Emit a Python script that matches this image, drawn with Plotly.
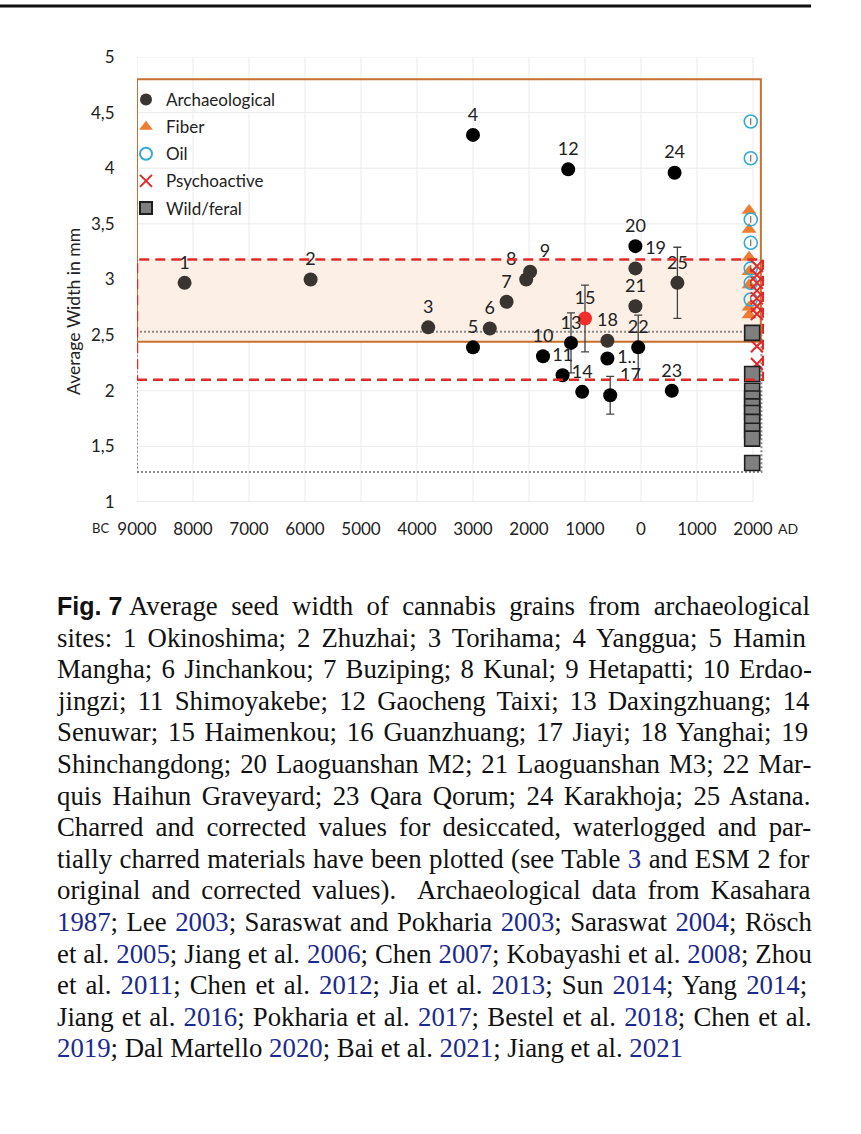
import re
import plotly.graph_objects as go

# archaeological sites (year: negative = BC), average seed width in mm
site_no = [str(i) for i in range(1, 26)]
site_year = [-8150, -5900, -3800, -3000, -3000, -2700, -2400, -2050, -1980, -1750,
             -1400, -1300, -1250, -1050, -1000, -600, -550, -600, -100, -100,
             -100, -50, 550, 600, 650]
site_width = [2.97, 3.00, 2.57, 4.30, 2.39, 2.56, 2.80, 3.00, 3.07, 2.31,
              2.14, 3.99, 2.43, 1.99, 2.65, 2.29, 1.96, 2.45, 3.10, 3.30,
              2.76, 2.39, 2.00, 3.96, 2.97]
site_err = [0, 0, 0, 0, 0, 0, 0, 0, 0, 0,
            0, 0, 0.27, 0, 0.30, 0, 0.17, 0, 0, 0,
            0, 0.29, 0, 0, 0.32]
site_label = site_no[:]
site_label[15] = "1.."

# modern reference groups plotted around 2000 AD
fiber_width = [3.62, 3.45, 3.20, 3.07, 2.95, 2.75, 2.68]
oil_width = [4.42, 4.09, 3.54, 3.33, 3.10, 2.97, 2.82]
oil_err = [0.03, 0.03, 0.03, 0.03, 0.03, 0.03, 0.03]
psycho_width = [3.12, 3.04, 2.97, 2.90, 2.83, 2.76, 2.69, 2.40, 2.24]
wild_width = [2.52, 2.15, 2.00, 1.93, 1.86, 1.80, 1.72, 1.64, 1.57, 1.35]

# ranges drawn as boxes
cult_range = [2.44, 4.80]      # orange box
psycho_range = [2.10, 3.18]    # red dashed box
wild_range = [1.27, 2.53]      # grey dotted box

x_ticks = list(range(-9000, 2001, 1000))
x_text = [str(abs(v)) for v in x_ticks]
y_ticks = [1, 1.5, 2, 2.5, 3, 3.5, 4, 4.5, 5]
y_text = [str(v).replace(".", ",").replace(",0", "") for v in y_ticks]

# caption, {..} = blue reference links
caption_lines = [
    "Average seed width of cannabis grains from archaeological",
    "sites: 1 Okinoshima; 2 Zhuzhai; 3 Torihama; 4 Yanggua; 5 Hamin",
    "Mangha; 6 Jinchankou; 7 Buziping; 8 Kunal; 9 Hetapatti; 10 Erdao-",
    "jingzi; 11 Shimoyakebe; 12 Gaocheng Taixi; 13 Daxingzhuang; 14",
    "Senuwar; 15 Haimenkou; 16 Guanzhuang; 17 Jiayi; 18 Yanghai; 19",
    "Shinchangdong; 20 Laoguanshan M2; 21 Laoguanshan M3; 22 Mar-",
    "quis Haihun Graveyard; 23 Qara Qorum; 24 Karakhoja; 25 Astana.",
    "Charred and corrected values for desiccated, waterlogged and par-",
    "tially charred materials have been plotted (see Table {3} and ESM 2 for",
    "original and corrected values).  Archaeological data from Kasahara",
    "{1987}; Lee {2003}; Saraswat and Pokharia {2003}; Saraswat {2004}; Rösch",
    "et al. {2005}; Jiang et al. {2006}; Chen {2007}; Kobayashi et al. {2008}; Zhou",
    "et al. {2011}; Chen et al. {2012}; Jia et al. {2013}; Sun {2014}; Yang {2014};",
    "Jiang et al. {2016}; Pokharia et al. {2017}; Bestel et al. {2018}; Chen et al.",
    "{2019}; Dal Martello {2020}; Bai et al. {2021}; Jiang et al. {2021}",
]

FONT = "Lato"
W, H = 861, 1134


def px(x):
    return x / W


def py(y):
    return 1 - y / H


# Times / Liberation Serif advance widths (per 1000 em) used to justify caption lines
TIMES = {" ": 250, "(": 333, ")": 333, ",": 250, "-": 333, ".": 250, ":": 278, ";": 278,
         "A": 722, "B": 667, "C": 667, "D": 722, "E": 611, "F": 556, "G": 722, "H": 722,
         "I": 333, "J": 389, "K": 722, "L": 611, "M": 889, "N": 722, "O": 722, "P": 556,
         "Q": 722, "R": 667, "S": 556, "T": 611, "U": 722, "V": 722, "W": 944, "X": 722,
         "Y": 722, "Z": 611, "a": 444, "b": 500, "c": 444, "d": 500, "e": 444, "f": 333,
         "g": 500, "h": 500, "i": 278, "j": 278, "k": 500, "l": 278, "m": 778, "n": 500,
         "o": 500, "p": 500, "q": 500, "r": 333, "s": 389, "t": 278, "u": 500, "v": 500,
         "w": 722, "x": 500, "y": 500, "z": 444, "ö": 500}
for d in "0123456789":
    TIMES[d] = 500

CAP_SIZE = 26.8
CAP_LEFT, CAP_RIGHT = 55, 810
FIG_LABEL = "Fig. 7"
FIG_SIZE = 25
FIG_W = (611 + 278 + 611 + 278 + 278 + 556) / 1000 * FIG_SIZE + 0.25 * CAP_SIZE
blue = "#1B2A8C"


def justify(line, first, last):
    parts = re.split(r"(\{[^}]*\})", line)
    plain = line.replace("{", "").replace("}", "")
    natural = sum(TIMES.get(c, 500) for c in plain) / 1000 * CAP_SIZE
    avail = CAP_RIGHT - CAP_LEFT - (FIG_W if first else 0)
    n_sp = plain.count(" ")
    ws = 0 if last or n_sp == 0 else max(0, (avail - natural) / n_sp)
    out = ""
    if first:
        out += ("<span style='font-family:Liberation Sans;font-size:%dpx'><b>%s</b></span> "
                % (FIG_SIZE, FIG_LABEL))
    for p in parts:
        if not p:
            continue
        if p.startswith("{"):
            out += "<span style='color:%s'>%s</span>" % (blue, p[1:-1])
        else:
            out += "<span style='word-spacing:%.2fpx'>%s</span>" % (ws, p)
    return out


# colours: red for Haimenkou, dark grey inside the shaded band, black otherwise
colors = []
for i, w in enumerate(site_width):
    if i == 14:
        colors.append("#F0302A")
    elif cult_range[0] <= w <= psycho_range[1]:
        colors.append("#3A3430")
    else:
        colors.append("#000000")

label_pos = ["top center"] * 25
label_pos[7] = "top left"
label_pos[8] = "top right"
label_pos[15] = "middle right"
label_pos[16] = "top right"
label_pos[18] = "top right"

fig = go.Figure()

fig.add_trace(go.Scatter(
    x=site_year, y=site_width, mode="markers+text", name="Archaeological",
    legendgroup="a", text=site_label, textposition=label_pos,
    textfont=dict(family=FONT, size=18, color="#222222"),
    marker=dict(size=14, color=colors, symbol="circle"),
    error_y=dict(type="data", array=site_err, color="#444444", thickness=1.3, width=4),
    cliponaxis=False,
))
fig.add_trace(go.Scatter(
    x=[1930] * len(fiber_width), y=fiber_width, mode="markers", name="Fiber",
    legendgroup="b",
    marker=dict(size=13, color="#ED7D31", symbol="triangle-up"),
))
fig.add_trace(go.Scatter(
    x=[1960] * len(oil_width), y=oil_width, mode="markers", name="Oil",
    legendgroup="c",
    marker=dict(size=13, color="rgba(0,0,0,0)", symbol="circle",
                line=dict(color="#35A9D4", width=1.6)),
    error_y=dict(type="data", array=oil_err, color="#555555", thickness=1, width=0),
))
fig.add_trace(go.Scatter(
    x=[2070] * len(psycho_width), y=psycho_width, mode="markers", name="Psychoactive",
    legendgroup="d",
    marker=dict(size=12, symbol="x-thin", line=dict(color="#E02A2A", width=2)),
    cliponaxis=False,
))
fig.add_trace(go.Scatter(
    x=[1985] * len(wild_width), y=wild_width, mode="markers", name="Wild/feral",
    legendgroup="e",
    marker=dict(size=15, color="#7F7F7F", symbol="square",
                line=dict(color="#1E1E1E", width=1.6)),
    cliponaxis=False,
))

shapes = []
# light grid
for v in x_ticks:
    shapes.append(dict(type="line", xref="x", yref="y", x0=v, x1=v, y0=1, y1=5,
                       line=dict(color="#EBEBEB", width=1), layer="below"))
for v in y_ticks[1:]:
    shapes.append(dict(type="line", xref="x", yref="y", x0=-9000, x1=2000, y0=v, y1=v,
                       line=dict(color="#EBEBEB", width=1), layer="below"))
shapes.append(dict(type="line", xref="x", yref="y", x0=-9000, x1=2000, y0=1, y1=1,
                   line=dict(color="#D4D4D4", width=1.2), layer="below"))
# shaded overlap band
shapes.append(dict(type="rect", xref="x", yref="y", x0=-9000, x1=2140,
                   y0=cult_range[0], y1=psycho_range[1],
                   fillcolor="#FCEFE5", line=dict(width=0), layer="below"))
# boxes
shapes.append(dict(type="rect", xref="x", yref="y", x0=-9000, x1=2150,
                   y0=wild_range[0], y1=wild_range[1],
                   line=dict(color="#8A8A8A", width=2, dash="2px,2px"), layer="below"))
shapes.append(dict(type="rect", xref="x", yref="y", x0=-9000, x1=2140,
                   y0=cult_range[0], y1=cult_range[1],
                   line=dict(color="#C7702F", width=2), layer="below"))
shapes.append(dict(type="rect", xref="x", yref="y", x0=-9000, x1=2180,
                   y0=psycho_range[0], y1=psycho_range[1],
                   line=dict(color="#E02A2A", width=2.5, dash="10px,6px"), layer="above"))
# page rule at the top
shapes.append(dict(type="line", xref="paper", yref="paper", x0=0, x1=px(811),
                   y0=py(6), y1=py(6), line=dict(color="#111111", width=3)))

annotations = [
    dict(text="Average Width in mm", x=px(73), y=py(312), xanchor="center", yanchor="middle",
         xref="paper", yref="paper", textangle=-90, showarrow=False,
         font=dict(family=FONT, size=17.6, color="#222222")),
    dict(text="BC", x=px(100), y=py(528), xref="paper", yref="paper",
         xanchor="center", yanchor="middle",
         showarrow=False, font=dict(family=FONT, size=13, color="#222222")),
    dict(text="AD", x=px(776), y=py(528), xref="paper", yref="paper",
         xanchor="left", yanchor="middle",
         showarrow=False, font=dict(family=FONT, size=14, color="#222222")),
]

n = len(caption_lines)
for i, line in enumerate(caption_lines):
    annotations.append(dict(text=justify(line, i == 0, i == n - 1),
                            xref="paper", yref="paper",
                            x=px(CAP_LEFT), y=py(606 + i * 31.6),
                            xanchor="left", yanchor="middle", showarrow=False,
                            font=dict(family="Liberation Serif", size=CAP_SIZE, color="#111111")))

fig.update_layout(
    template="none",
    width=W, height=H,
    margin=dict(l=0, r=0, t=0, b=0),
    paper_bgcolor="white", plot_bgcolor="white",
    shapes=shapes, annotations=annotations,
    showlegend=True,
    legend=dict(x=px(126), y=py(82), xanchor="left", yanchor="top",
                bgcolor="rgba(0,0,0,0)", font=dict(family=FONT, size=17, color="#222222"),
                tracegroupgap=2, itemwidth=30, itemsizing="constant"),
    xaxis=dict(range=[-9000, 2200], domain=[px(137), px(764.2)], automargin=False,
               showgrid=False, zeroline=False, showline=False,
               tickvals=x_ticks, ticktext=x_text, ticks="outside", ticklen=12,
               tickcolor="rgba(0,0,0,0)",
               tickfont=dict(family=FONT, size=17, color="#222222")),
    yaxis=dict(range=[1, 5], domain=[py(502), py(57)], automargin=False,
               showgrid=False, zeroline=False, showline=False,
               tickvals=y_ticks, ticktext=y_text, ticks="outside", ticklen=18,
               tickcolor="rgba(0,0,0,0)",
               tickfont=dict(family=FONT, size=17, color="#222222")),
)

fig.write_html("out.html", config={"displayModeBar": False},
               post_script="document.body.style.margin='0px';")
